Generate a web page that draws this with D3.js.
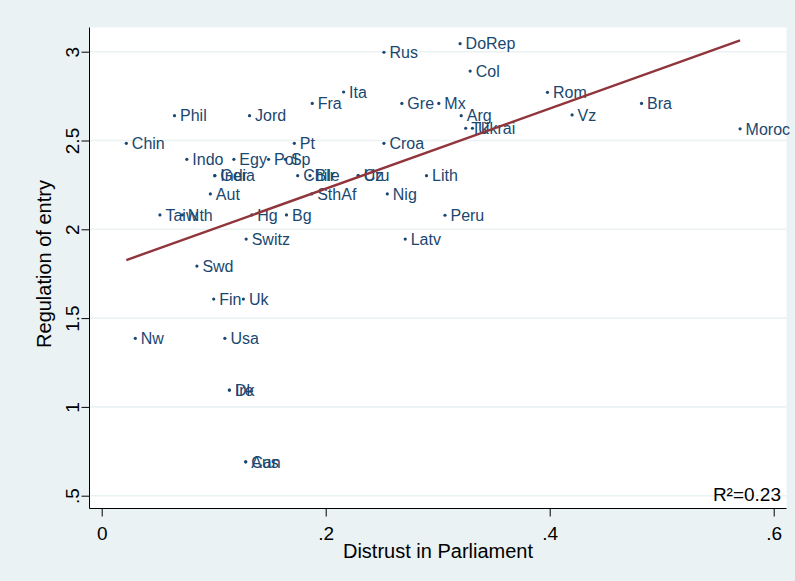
<!DOCTYPE html>
<html>
<head>
<meta charset="utf-8">
<script src="https://cdn.jsdelivr.net/npm/d3@7"></script>
<style>
  html, body { margin: 0; padding: 0; background: #eaf2f3; }
  svg { display: block; font-family: "Liberation Sans", Arial, sans-serif; }
</style>
</head>
<body>
<svg id="chart" width="795" height="581"></svg>
<script>
// Country abbreviations with distrust in parliament (x) and regulation of entry (y)
const countries = ["Chin","Phil","Jord","Fra","Ita","Rus","DoRep","Col","Gre","Mx",
  "Arg","Tk","Ukrai","Rom","Vz","Bra","Moroc","Pt","Croa","Indo",
  "Egy","Pol","Sp","Ger","India","Chile","Blr","Cz","Uru","Lith",
  "Aut","SthAf","Nig","Taiw","Nth","Hg","Bg","Peru","Switz","Latv",
  "Swd","Fin","Uk","Nw","Usa","Dk","Ire","Can","Aus"];
const distrust = [0.022,0.065,0.132,0.188,0.216,0.252,0.320,0.329,0.268,0.301,
  0.321,0.325,0.331,0.398,0.420,0.482,0.570,0.172,0.252,0.076,
  0.118,0.149,0.164,0.101,0.101,0.175,0.186,0.229,0.229,0.290,
  0.097,0.1875,0.255,0.052,0.072,0.134,0.165,0.3065,0.129,0.271,
  0.085,0.100,0.1265,0.030,0.110,0.114,0.114,0.1286,0.1286];
const regulation = [2.484,2.640,2.640,2.709,2.773,2.997,3.045,2.891,2.709,2.709,
  2.640,2.569,2.569,2.771,2.644,2.709,2.566,2.484,2.484,2.394,
  2.394,2.394,2.394,2.302,2.302,2.302,2.302,2.302,2.302,2.302,
  2.199,2.199,2.199,2.081,2.081,2.081,2.081,2.079,1.945,1.945,
  1.793,1.607,1.607,1.386,1.386,1.095,1.095,0.691,0.691];

// Fitted line: regulation = intercept + slope * distrust
const fitIntercept = 1.777;
const fitSlope = 2.258;
const rSquaredText = "R²=0.23";

const xTicks = [0, 0.2, 0.4, 0.6];
const xTickLabels = ["0", ".2", ".4", ".6"];
const yTicks = [0.5, 1, 1.5, 2, 2.5, 3];
const yTickLabels = [".5", "1", "1.5", "2", "2.5", "3"];

const xTitle = "Distrust in Parliament";
const yTitle = "Regulation of entry";

const navy = "#1a476f";
const maroon = "#90353b";
const bg = "#eaf2f3";

const plot = { left: 89.5, right: 786.5, top: 27.5, bottom: 508.5 };

const svg = d3.select("#chart");

const x = d3.scaleLinear().domain([0, 0.6]).range([101.7, 773.7]);
const y = d3.scaleLinear().domain([0.5, 3]).range([495.7, 51.7]);

// Outer region and white plot region
svg.append("rect").attr("width", 795).attr("height", 581).attr("fill", bg);
svg.append("rect")
  .attr("x", plot.left).attr("y", plot.top)
  .attr("width", plot.right - plot.left).attr("height", plot.bottom - plot.top)
  .attr("fill", "#ffffff");

// Horizontal grid lines
svg.append("g").selectAll("line").data(yTicks).join("line")
  .attr("x1", plot.left).attr("x2", plot.right)
  .attr("y1", d => y(d)).attr("y2", d => y(d))
  .attr("stroke", bg).attr("stroke-width", 1.6);

// Y axis
const yAxis = d3.axisLeft(y).tickValues(yTicks).tickSize(8).tickPadding(3)
  .tickFormat((d, i) => yTickLabels[i]);
const gy = svg.append("g").attr("transform", `translate(${plot.left},0)`).call(yAxis);
gy.select(".domain").attr("d", `M0,${plot.top}V${plot.bottom}`).attr("stroke", "#000");
gy.selectAll(".tick line").attr("stroke", "#000");
gy.selectAll(".tick text")
  .attr("x", null).attr("dy", null)
  .attr("transform", "translate(-11,0) rotate(-90)")
  .attr("text-anchor", "middle")
  .attr("fill", "#000")
  .style("font-size", "19px")
  .style("font-family", "'Liberation Sans', Arial, sans-serif");

// X axis
const xAxis = d3.axisBottom(x).tickValues(xTicks).tickSize(8).tickPadding(4)
  .tickFormat((d, i) => xTickLabels[i]);
const gx = svg.append("g").attr("transform", `translate(0,${plot.bottom})`).call(xAxis);
gx.select(".domain").attr("d", `M${plot.left},0H${plot.right}`).attr("stroke", "#000");
gx.selectAll(".tick line").attr("stroke", "#000");
gx.selectAll(".tick text")
  .attr("y", null).attr("dy", null)
  .attr("transform", "translate(0,31)")
  .attr("text-anchor", "middle")
  .attr("fill", "#000")
  .style("font-size", "19px")
  .style("font-family", "'Liberation Sans', Arial, sans-serif");

// Axis titles
svg.append("text")
  .attr("x", (plot.left + plot.right) / 2).attr("y", 558)
  .attr("text-anchor", "middle").attr("fill", "#000")
  .style("font-size", "20px").text(xTitle);
svg.append("text")
  .attr("transform", `translate(51,${(plot.top + plot.bottom) / 2 - 4}) rotate(-90)`)
  .attr("text-anchor", "middle").attr("fill", "#000")
  .style("font-size", "20px").text(yTitle);

// Points with labels
const pts = countries.map((c, i) => ({ name: c, dx: distrust[i], ry: regulation[i] }));

const gp = svg.append("g");
gp.selectAll("circle").data(pts).join("circle")
  .attr("cx", d => x(d.dx)).attr("cy", d => y(d.ry))
  .attr("r", 1.6).attr("fill", navy);
gp.selectAll("text").data(pts).join("text")
  .attr("x", d => x(d.dx) + 5.5).attr("y", d => y(d.ry))
  .attr("dy", "0.36em")
  .attr("fill", navy)
  .style("font-size", "16px")
  .text(d => d.name);

// Fitted regression line across the observed range
const xMin = d3.min(distrust), xMax = d3.max(distrust);
svg.append("line")
  .attr("x1", x(xMin)).attr("y1", y(fitIntercept + fitSlope * xMin))
  .attr("x2", x(xMax)).attr("y2", y(fitIntercept + fitSlope * xMax))
  .attr("stroke", maroon).attr("stroke-width", 2.4);

// Goodness of fit note
svg.append("text")
  .attr("x", 781).attr("y", 501)
  .attr("text-anchor", "end").attr("fill", "#000")
  .style("font-size", "19px")
  .text(rSquaredText);
</script>
</body>
</html>
